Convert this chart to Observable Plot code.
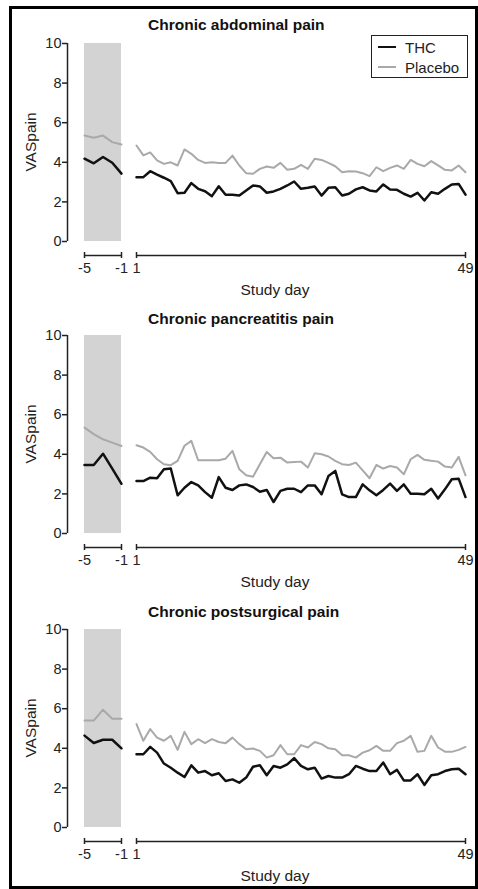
<!DOCTYPE html>
<html>
<head>
<meta charset="utf-8">
<script src="https://cdn.jsdelivr.net/npm/d3@7"></script>
<script src="https://cdn.jsdelivr.net/npm/@observablehq/plot@0.6"></script>
<style>
  html, body { margin: 0; padding: 0; background: #fff; }
  #fig { position: relative; width: 478px; height: 889px; overflow: hidden; font-family: "Liberation Sans", Arial, Helvetica, sans-serif; color: #111; }
  #border { position: absolute; left: 9px; top: 6px; width: 463px; height: 877px; border: 3px solid #000; }
  .svgwrap { position: absolute; }
  .title { position: absolute; font-weight: bold; font-size: 15.5px; white-space: nowrap; transform: translateY(-50%); }
  .xlab { position: absolute; font-size: 15.5px; white-space: nowrap; transform: translate(-50%, -50%); color: #222; }
  .ylab { position: absolute; font-size: 15.5px; white-space: nowrap; transform: translate(-50%, -50%) rotate(-90deg); color: #222; }
  #legend { position: absolute; left: 371px; top: 35px; width: 95px; height: 41px; border: 1.5px solid #222; font-size: 15px; color: #222; }
  .lrow { position: absolute; left: 6px; height: 16px; display: flex; align-items: center; }
  .lline { width: 18px; margin-right: 9px; }
</style>
</head>
<body>
<div id="fig"><div id="border"></div></div>
<script>
// ---- data ----
const titles = ["Chronic abdominal pain", "Chronic pancreatitis pain", "Chronic postsurgical pain"];
const seriesNames = ["THC", "Placebo"];
const yTicks = [0, 2, 4, 6, 8, 10];
const baselineTicks = [-5, -1];
const studyTicks = [1, 49];
const baselineDays = [-5, -4, -3, -2, -1];
const studyDays = d3.range(1, 50);
const band = [{x1: -5, x2: -1, y1: 0, y2: 10}];

// Chronic abdominal pain
const abdTHCBase = [4.18, 3.95, 4.27, 3.98, 3.43];
const abdPlaBase = [5.35, 5.24, 5.35, 5.02, 4.90];
const abdTHC = [3.25, 3.25, 3.55, 3.38, 3.22, 3.05, 2.44, 2.46, 2.95, 2.66,
  2.54, 2.29, 2.79, 2.36, 2.36, 2.32, 2.58, 2.83, 2.78, 2.46,
  2.53, 2.66, 2.83, 3.03, 2.66, 2.71, 2.78, 2.32, 2.71, 2.74,
  2.32, 2.41, 2.63, 2.74, 2.58, 2.53, 2.88, 2.63, 2.61, 2.41,
  2.27, 2.46, 2.07, 2.49, 2.41, 2.66, 2.88, 2.91, 2.37];
const abdPla = [4.85, 4.35, 4.50, 4.10, 3.92, 4.00, 3.84, 4.65, 4.43, 4.12,
  3.97, 4.00, 3.97, 3.97, 4.34, 3.84, 3.45, 3.42, 3.67, 3.79,
  3.72, 3.97, 3.62, 3.67, 3.87, 3.67, 4.18, 4.12, 3.97, 3.80,
  3.50, 3.55, 3.54, 3.45, 3.30, 3.75, 3.55, 3.72, 3.84, 3.67,
  4.12, 3.92, 3.80, 4.06, 3.84, 3.62, 3.59, 3.84, 3.50];

// Chronic pancreatitis pain
const panTHCBase = [3.46, 3.46, 4.03, 3.28, 2.51];
const panPlaBase = [5.35, 5.02, 4.76, 4.59, 4.42];
const panTHC = [2.65, 2.65, 2.82, 2.79, 3.24, 3.28, 1.93, 2.31, 2.60, 2.43,
  2.09, 1.81, 2.85, 2.31, 2.20, 2.43, 2.48, 2.35, 2.11, 2.20,
  1.59, 2.15, 2.26, 2.26, 2.09, 2.43, 2.43, 1.98, 2.90, 3.16,
  1.98, 1.84, 1.84, 2.48, 2.18, 1.93, 2.20, 2.52, 2.15, 2.48,
  2.01, 2.01, 1.98, 2.26, 1.77, 2.23, 2.74, 2.77, 1.84];
const panPla = [4.46, 4.34, 4.12, 3.75, 3.50, 3.45, 3.67, 4.43, 4.68, 3.70,
  3.70, 3.70, 3.70, 3.78, 4.17, 3.24, 2.94, 2.87, 3.50, 4.12,
  3.80, 3.83, 3.58, 3.61, 3.63, 3.33, 4.05, 4.00, 3.89, 3.67,
  3.50, 3.46, 3.58, 3.19, 2.79, 3.46, 3.28, 3.41, 3.33, 2.99,
  3.75, 3.97, 3.72, 3.67, 3.63, 3.38, 3.33, 3.87, 2.94];

// Chronic postsurgical pain
const posTHCBase = [4.64, 4.27, 4.43, 4.43, 4.00];
const posPlaBase = [5.40, 5.40, 5.95, 5.49, 5.49];
const posTHC = [3.70, 3.70, 4.07, 3.78, 3.23, 3.02, 2.77, 2.55, 3.14, 2.77,
  2.85, 2.64, 2.74, 2.35, 2.43, 2.26, 2.52, 3.07, 3.14, 2.64,
  3.11, 3.02, 3.19, 3.50, 3.11, 2.94, 3.02, 2.47, 2.60, 2.52,
  2.52, 2.69, 3.11, 2.97, 2.85, 2.85, 3.28, 2.69, 2.91, 2.38,
  2.38, 2.69, 2.15, 2.64, 2.69, 2.85, 2.94, 2.97, 2.69];
const posPla = [5.22, 4.38, 4.97, 4.54, 4.38, 4.63, 3.92, 4.83, 4.21, 4.46,
  4.26, 4.46, 4.32, 4.26, 4.54, 4.21, 3.95, 3.99, 3.87, 3.53,
  3.65, 4.16, 3.70, 3.70, 4.16, 4.04, 4.32, 4.21, 4.00, 3.95,
  3.65, 3.65, 3.53, 3.78, 3.90, 4.12, 3.87, 3.87, 4.26, 4.38,
  4.63, 3.82, 3.87, 4.63, 4.04, 3.83, 3.82, 3.92, 4.07];

const panels = [
  {title: titles[0], thcBase: abdTHCBase, plaBase: abdPlaBase, thc: abdTHC, pla: abdPla},
  {title: titles[1], thcBase: panTHCBase, plaBase: panPlaBase, thc: panTHC, pla: panPla},
  {title: titles[2], thcBase: posTHCBase, plaBase: posPlaBase, thc: posTHC, pla: posPla}
];
// y pixel of value 10 in each panel, and title centre offsets
const panelTops = [43, 335, 629];
const titleOffsets = [-18, -16, -17];

// ---- layout / drawing ----
const fig = document.getElementById("fig");
const THC_COLOR = "#111";
const PLA_COLOR = "#a9a9a9";
const mT = 8, plotH = 198, insetB = 11, mB = 30;
const H = mT + plotH + insetB + mB;
const fontFamily = '"Liberation Sans", Arial, Helvetica, sans-serif';

function toRows(xs, ys) { return xs.map((x, i) => ({x, y: ys[i]})); }

function place(el, left, top) {
  const w = document.createElement("div");
  w.className = "svgwrap";
  w.style.left = left + "px";
  w.style.top = top + "px";
  w.appendChild(el);
  fig.appendChild(w);
}

panels.forEach((p, i) => {
  const y10 = panelTops[i];
  const svgTop = y10 - mT;

  const right = Plot.plot({
    width: 352, height: H,
    marginLeft: 10, marginRight: 13, marginTop: mT, marginBottom: mB,
    style: {fontFamily, fontSize: "14.5px", color: "#222", background: "transparent"},
    x: {domain: [1, 49], label: null},
    y: {domain: [0, 10], insetBottom: insetB, label: null, axis: null},
    marks: [
      Plot.ruleY([0], {x1: 1, x2: 49, dy: 14, stroke: "#222", strokeWidth: 1.5}),
      Plot.axisX({ticks: studyTicks, tickSize: 6, tickPadding: 4, label: null, strokeWidth: 1.5, tickFormat: d => String(d), fontSize: 14.5}),
      Plot.lineY(toRows(studyDays, p.pla), {x: "x", y: "y", stroke: PLA_COLOR, strokeWidth: 2}),
      Plot.lineY(toRows(studyDays, p.thc), {x: "x", y: "y", stroke: THC_COLOR, strokeWidth: 2.5})
    ]
  });
  place(right, 126, svgTop);

  const left = Plot.plot({
    width: 131, height: H,
    marginLeft: 67, marginRight: 10, marginTop: mT, marginBottom: mB,
    style: {fontFamily, fontSize: "14.5px", color: "#222", background: "transparent"},
    x: {domain: [-5, -1], insetLeft: 17, label: null},
    y: {domain: [0, 10], insetBottom: insetB, label: null},
    marks: [
      Plot.rect(band, {x1: "x1", x2: "x2", y1: "y1", y2: "y2", fill: "#d3d3d3"}),
      Plot.ruleX([-5], {y1: 0, y2: 10, dx: -17, stroke: "#222", strokeWidth: 1.5}),
      Plot.axisY({ticks: yTicks, tickSize: 5, tickPadding: 1, label: null, strokeWidth: 1.5, fontSize: 14.5}),
      Plot.ruleY([0], {x1: -5, x2: -1, dy: 14, stroke: "#222", strokeWidth: 1.5}),
      Plot.axisX({ticks: baselineTicks, tickSize: 6, tickPadding: 4, label: null, strokeWidth: 1.5, tickFormat: d => String(d), fontSize: 14.5}),
      Plot.lineY(toRows(baselineDays, p.plaBase), {x: "x", y: "y", stroke: PLA_COLOR, strokeWidth: 2}),
      Plot.lineY(toRows(baselineDays, p.thcBase), {x: "x", y: "y", stroke: THC_COLOR, strokeWidth: 2.5})
    ]
  });
  place(left, 0, svgTop);

  const t = document.createElement("div");
  t.className = "title";
  t.textContent = p.title;
  t.style.left = "148px";
  t.style.top = (y10 + titleOffsets[i]) + "px";
  fig.appendChild(t);

  const xl = document.createElement("div");
  xl.className = "xlab";
  xl.textContent = "Study day";
  xl.style.left = "275px";
  xl.style.top = (y10 + plotH + 49) + "px";
  fig.appendChild(xl);

  const yl = document.createElement("div");
  yl.className = "ylab";
  yl.textContent = "VASpain";
  yl.style.left = "31px";
  yl.style.top = (y10 + plotH / 2) + "px";
  fig.appendChild(yl);
});

// legend
const legend = document.createElement("div");
legend.id = "legend";
[[seriesNames[0], THC_COLOR, 2.5, 3], [seriesNames[1], PLA_COLOR, 2, 23]].forEach(([name, color, sw, top]) => {
  const row = document.createElement("div");
  row.className = "lrow";
  row.style.top = top + "px";
  const ln = document.createElement("div");
  ln.className = "lline";
  ln.style.borderTop = sw + "px solid " + color;
  const tx = document.createElement("span");
  tx.textContent = name;
  row.appendChild(ln);
  row.appendChild(tx);
  legend.appendChild(row);
});
fig.appendChild(legend);
</script>
</body>
</html>
